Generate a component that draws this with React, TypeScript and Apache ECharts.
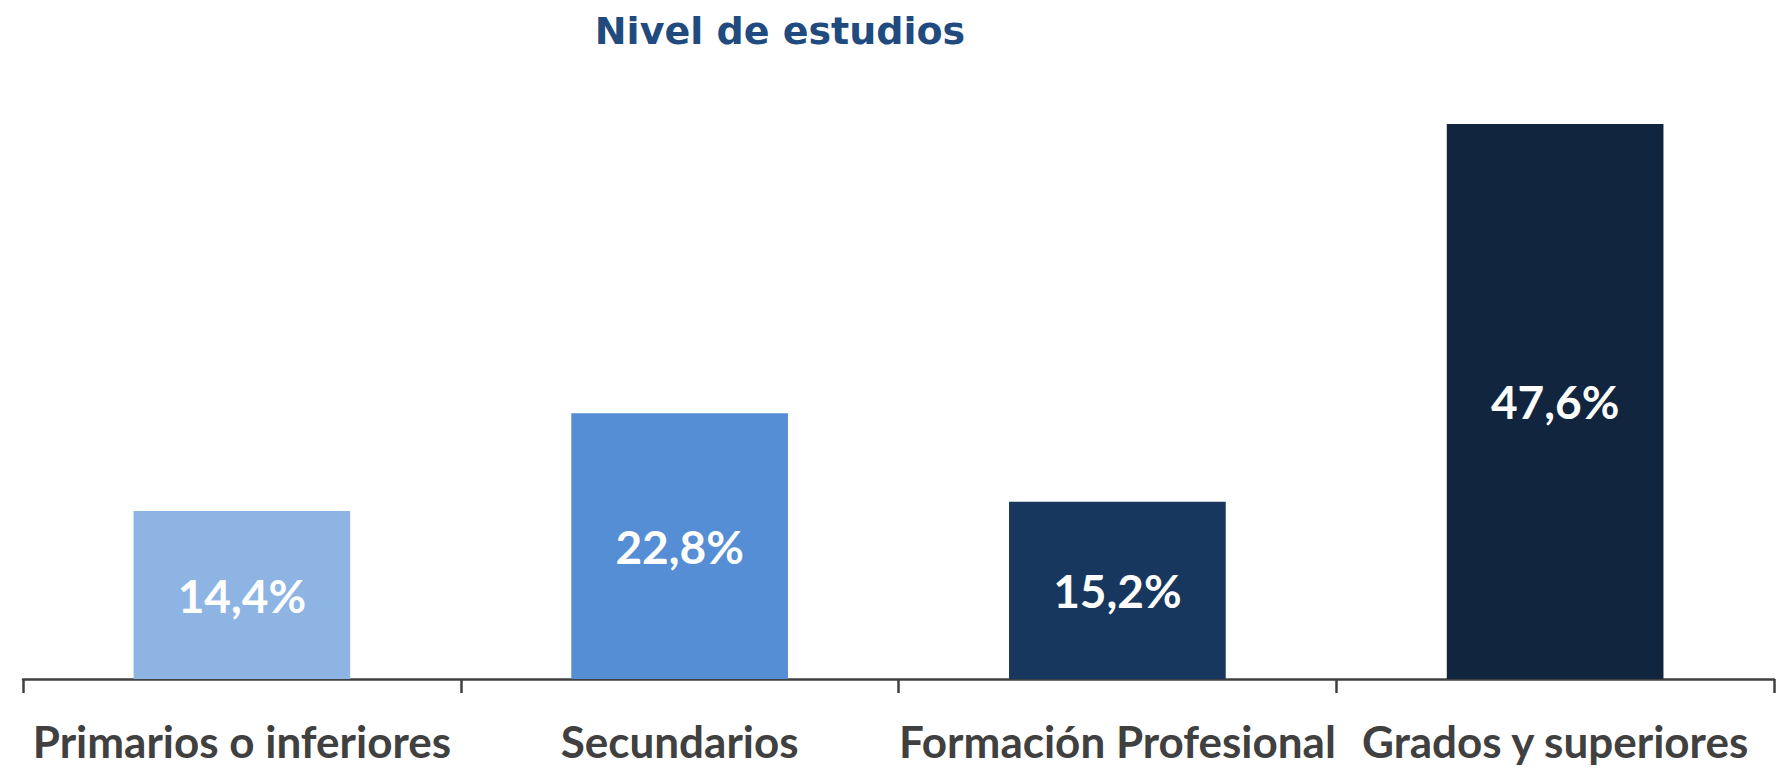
import React, { useEffect, useRef } from "react";
import * as echarts from "echarts";

const titleText = "Nivel de estudios";
const categories = ["Primarios o inferiores", "Secundarios", "Formación Profesional", "Grados y superiores"];
const values = [14.4, 22.8, 15.2, 47.6];
const barColors = ["#8EB4E3", "#558ED5", "#17375E", "#12253F"];

export default function App() {
  const ref = useRef<HTMLDivElement>(null);
  useEffect(() => {
    document.body.style.margin = "0";
    const chart = echarts.init(ref.current!, null, { renderer: "svg" });
    chart.setOption({
      animation: false,
      backgroundColor: "#ffffff",
      title: {
        text: titleText,
        left: 775,
        top: 7,
        textAlign: "center",
        textStyle: {
          color: "#214B7E",
          fontSize: 38,
          fontWeight: "bold",
          fontFamily: "DejaVu Sans",
        },
      },
      grid: { left: 23, right: 15, top: 96, bottom: 89 },
      xAxis: {
        type: "category",
        data: categories,
        axisLine: { lineStyle: { color: "#404040", width: 2.5 } },
        axisTick: { show: true, length: 14, lineStyle: { color: "#404040", width: 2.5 } },
        axisLabel: {
          interval: 0,
          margin: 40,
          color: "#404040",
          fontFamily: "Lato",
          fontWeight: "bold",
          fontSize: 44,
        },
      },
      yAxis: { type: "value", min: 0, max: 50, show: false, splitLine: { show: false } },
      series: [
        {
          type: "bar",
          barWidth: "49.5%",
          data: values.map((v, i) => ({ value: v, itemStyle: { color: barColors[i] } })),
          label: {
            show: true,
            position: "inside",
            color: "#ffffff",
            fontFamily: "Lato",
            fontWeight: "bold",
            fontSize: 46,
            formatter: (p: any) => p.value.toFixed(1).replace(".", ",") + "%",
          },
        },
      ],
    });
    return () => chart.dispose();
  }, []);
  return <div ref={ref} style={{ width: 1789, height: 768 }} />;
}
